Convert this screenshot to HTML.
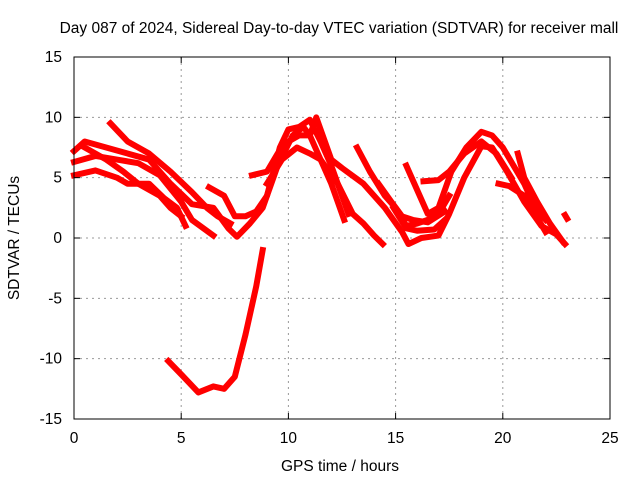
<!DOCTYPE html>
<html><head><meta charset="utf-8"><style>
body{margin:0;background:#fff}
svg text{font-family:"Liberation Sans",sans-serif;font-size:15.5px;fill:#000}
</style></head><body>
<svg width="640" height="480">
<rect width="640" height="480" fill="#fff"/>
<text x="339" y="33" text-anchor="middle">Day 087 of 2024, Sidereal Day-to-day VTEC variation (SDTVAR) for receiver mall</text>
<g id="grid"></g>
<g id="tracks"></g>
<rect x="74" y="57" width="536" height="362" fill="none" stroke="#000"/>
<g id="axes"></g>
<text x="340" y="471" text-anchor="middle">GPS time / hours</text>
<text transform="translate(19,238) rotate(-90)" text-anchor="middle">SDTVAR / TECUs</text>
</svg>
<script>
const xTicks=[0,5,10,15,20,25];
const yTicks=[-15,-10,-5,0,5,10,15];
const tracks=[
[[4.4,-10.2],[5.0,-11.3],[5.8,-12.8],[6.5,-12.3],[7.0,-12.5],[7.5,-11.5],[8.0,-8],[8.5,-4],[8.8,-1]],
[[0,7.2],[0.5,8],[1.5,7.5],[2.5,7],[3.5,6.5],[4.5,4.5],[5.5,2.8],[6.5,2.5],[7.2,0.8],[7.6,0.1],[8.2,1.2],[8.8,2.5],[9.5,6],[10.2,8.5],[10.7,9.2],[11,8.5],[11.3,10],[12,6.5],[12.5,5.8],[13.5,4.5],[14.5,2.5],[15.3,0.5],[15.6,-0.5],[16.2,0],[17,0.2],[17.5,2],[18.2,5],[19,7.6],[19.5,7.5],[20.2,5.5],[21,3],[21.8,1],[22.5,0.3],[22.9,-0.5]],
[[0,6.3],[1,6.8],[2,6.5],[3,6.2],[4,5.2],[5,3],[5.5,1.5],[6.5,0.2]],
[[0,5.2],[1,5.6],[2,5],[2.5,4.5],[3.5,4.5],[4.2,3.3],[4.8,2.5],[5.2,1]],
[[1.7,9.5],[2.5,8],[3.5,7],[4.5,5.5],[5.5,3.8],[6.2,2.5],[6.7,1.8],[7.3,1.2]],
[[0.5,7.5],[1.5,6.5],[2.3,5.5],[3,4.5],[4,3.5],[4.5,2.5],[5,1.8]],
[[6.3,4.2],[7,3.5],[7.5,1.8],[8,1.8],[8.5,2.2],[9,3.5],[9.6,7.5],[10,9],[10.5,9.2],[11,9.8],[11.5,8],[12,6],[12.5,3.5],[12.8,2]],
[[8.3,5.2],[9,5.5],[9.5,7],[10,8],[10.5,8.5],[11,8.5],[11.5,6.5],[12.3,4.5],[13,2],[13.5,1.2],[14,0.2],[14.4,-0.5]],
[[9,4.5],[9.7,6.5],[10.4,7.5],[11,7],[11.5,6.5],[12,4.5],[12.3,3],[12.6,1.5]],
[[13.2,7.5],[13.8,5.5],[14.5,3.5],[15,2.5],[15.5,1],[16,1.2],[16.5,1.5],[17,2],[17.5,3.5]],
[[15.5,6],[16,4],[16.5,2],[17,2.5],[17.6,5.5],[18.3,7.5],[19,8.8],[19.5,8.5],[20,7.5],[20.5,6],[21,4.5],[21.5,2.5],[22,1.5]],
[[16.3,4.7],[17,4.8],[17.5,5.5],[18.2,7],[19,8],[19.7,7],[20.4,5]],
[[19.8,4.5],[20.3,4.3],[21,3.5],[21.5,2],[22,0.5]],
[[20.7,7],[21,5],[21.6,3],[22.2,1.2],[22.8,-0.3]],
[[22.9,1.9],[23,1.6]],
[[14.2,4.5],[14.8,3],[15.3,1.8],[15.8,1.5],[16.5,1.3],[17.3,2.2]],
[[14.9,2.5],[15.5,0.8],[16,0.6],[16.8,0.7],[17.3,1.5]]
];
const X0=74,X1=610,Y0=419,Y1=57;
const xs=v=>X0+(v-0)/25*(X1-X0);
const ys=v=>Y0-(v+15)/30*(Y0-Y1);
const NS="http://www.w3.org/2000/svg";
const g=document.getElementById('grid'),ax=document.getElementById('axes'),tg=document.getElementById('tracks');
function mk(p,tag,a){const e=document.createElementNS(NS,tag);for(const k in a)e.setAttribute(k,a[k]);p.appendChild(e);return e;}
xTicks.forEach(t=>{const x=xs(t);
 if(t>0&&t<25){const l=mk(g,'line',{x1:x,x2:x,y1:Y1,y2:Y0,stroke:'#999','stroke-dasharray':'2,4'});
 
 }
 mk(ax,'line',{x1:x,x2:x,y1:Y0,y2:Y0-6,stroke:'#000'});mk(ax,'line',{x1:x,x2:x,y1:Y1,y2:Y1+6,stroke:'#000'});
 const tx=mk(ax,'text',{x:x,y:Y0+24,'text-anchor':'middle'});tx.textContent=t;
 
 });
yTicks.forEach(t=>{const y=ys(t);
 if(t>-15&&t<15){const l=mk(g,'line',{x1:X0,x2:X1,y1:y,y2:y,stroke:'#999','stroke-dasharray':'2,4'});
 
 }
 mk(ax,'line',{x1:X0,x2:X0+6,y1:y,y2:y,stroke:'#000'});mk(ax,'line',{x1:X1,x2:X1-6,y1:y,y2:y,stroke:'#000'});
 const tx=mk(ax,'text',{x:X0-12,y:y+5,'text-anchor':'end'});tx.textContent=t;
 
 });
tracks.forEach(tr=>{const pl=mk(tg,'polyline',{points:tr.map(p=>xs(p[0])+','+ys(p[1])).join(' '),fill:'none',stroke:'#f00','stroke-width':6,'stroke-linejoin':'round','stroke-linecap':'square'});
 
 });
</script>
</body></html>
